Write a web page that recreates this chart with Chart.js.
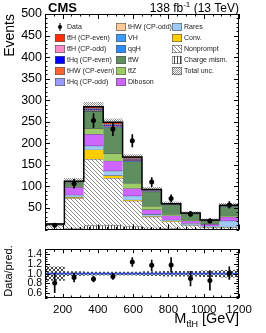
<!DOCTYPE html>
<html>
<head>
<meta charset="utf-8">
<script src="https://cdn.jsdelivr.net/npm/chart.js@4.4.0/dist/chart.umd.min.js"></script>
<style>
  body { margin: 0; background: #fff; }
  #wrap { position: relative; width: 266px; height: 333px; }
  #mainChart { position: absolute; left: 0; top: 0; }
  #ratioChart { position: absolute; left: 0; top: 240px; }
</style>
</head>
<body>
<div id="wrap">
  <canvas id="mainChart" width="266" height="240"></canvas>
  <canvas id="ratioChart" width="266" height="93"></canvas>
</div>
<script>
// bins of M_ttH [GeV]
const edges = [100, 210, 320, 430, 540, 650, 760, 870, 980, 1090, 1200];
const xTicks = [200, 400, 600, 800, 1000, 1200];
const ratioTicks = [0.6, 0.8, 1.0, 1.2, 1.4];

// observed
const dataObs = [10, 106, 253, 233, 206, 110, 72, 36, 20, 57];
const dataErr = [3.2, 10.3, 15.9, 15.3, 14.4, 10.5, 8.5, 6, 4.5, 7.5];

// predicted yields per process (bottom of the stack first)
const chargeMism = [1, 2, 9, 10, 7, 4, 2, 1, 1, 1];
const nonprompt  = [9, 70, 154, 109, 59, 25, 16, 9, 4, 4];
const conv       = [0.5, 3, 22, 6, 2, 1, 0.5, 0.3, 0.2, 0.5];
const rares      = [0.5, 5, 9, 11, 10, 5, 3.5, 3.7, 2.8, 14.5];
const diboson    = [0.5, 18, 27, 23, 17, 11, 10, 6, 4, 9];
const ttZ        = [0.3, 2, 13, 17, 11, 8, 2, 1, 1, 2];
const ttW        = [0.7, 10, 40, 60, 51, 33, 23, 15, 7, 22];
const qqH        = [0.05, 0.1, 0.5, 0.6, 0.5, 0.3, 0.1, 0.1, 0.1, 0.1];
const VH         = [0.05, 0.1, 0.5, 0.6, 0.5, 0.3, 0.1, 0.1, 0.1, 0.1];
const tHWodd     = [0, 0.1, 0.3, 0.4, 0.4, 0.2, 0.1, 0.1, 0.1, 0.2];
const tHqodd     = [0.05, 0.2, 0.7, 0.9, 0.8, 0.4, 0.2, 0.2, 0.2, 0.3];
const tHWeven    = [0.05, 0.2, 0.8, 1, 0.8, 0.5, 0.3, 0.2, 0.2, 0.3];
const tHqeven    = [0.1, 0.4, 2.2, 2.5, 2, 1.1, 0.6, 0.4, 0.4, 0.6];
const ttHodd     = [0.1, 0.3, 2.5, 3, 2.5, 1.4, 0.7, 0.4, 0.4, 0.6];
const ttHeven    = [0.1, 0.6, 3.5, 4, 3.5, 1.8, 0.9, 0.5, 0.5, 0.8];
const totalUnc   = [1.5, 7, 10, 8, 6, 5, 4, 3, 3, 5];

// ratio panel
const ratio    = [0.81, 0.92, 0.89, 0.94, 1.24, 1.17, 1.18, 0.90, 0.86, 1.01];
const ratioErr = [0.2, 0.09, 0.06, 0.06, 0.09, 0.11, 0.15, 0.15, 0.2, 0.13];
const ratioUnc = [0.14, 0.04, 0.03, 0.03, 0.03, 0.04, 0.05, 0.05, 0.06, 0.07];

Chart.defaults.font.family = '"Liberation Sans", Arial, sans-serif';
Chart.defaults.color = '#000';

// hatch patterns
function makePattern(size, paint) {
  const c = document.createElement('canvas');
  c.width = c.height = size;
  const g = c.getContext('2d');
  paint(g, size);
  return g.createPattern(c, 'repeat');
}
const nonpromptFill = makePattern(4, (g, s) => {
  g.fillStyle = '#fff'; g.fillRect(0, 0, s, s);
  g.fillStyle = '#8a8a8a';
  for (let i = 0; i < s; i++) g.fillRect(i, i, 1, 1);
});
const chargeFill = makePattern(3, (g, s) => {
  g.fillStyle = '#fff'; g.fillRect(0, 0, s, s);
  g.fillStyle = '#444'; g.fillRect(0, 0, 1, s);
});
const uncFill = makePattern(2, (g) => {
  g.fillStyle = 'rgba(110,110,110,0.75)';
  g.fillRect(0, 0, 1, 1); g.fillRect(1, 1, 1, 1);
});
const ratioUncFill = makePattern(4, (g, s) => {
  g.fillStyle = 'rgba(40,40,40,0.85)';
  for (let i = 0; i < s; i++) { g.fillRect(i, i, 1, 1); g.fillRect(s - 1 - i, i, 1, 1); }
});

const components = [
  { label: 'Charge mism.', values: chargeMism, fill: chargeFill },
  { label: 'Nonprompt', values: nonprompt, fill: nonpromptFill },
  { label: 'Conv.', values: conv, fill: '#ffcc00' },
  { label: 'Rares', values: rares, fill: '#9ccbf7' },
  { label: 'Diboson', values: diboson, fill: '#cc66ff' },
  { label: 'tt\u0304Z', values: ttZ, fill: '#9ccc65' },
  { label: 'tt\u0304W', values: ttW, fill: '#5f8f5f' },
  { label: 'qqH', values: qqH, fill: '#2b8cff' },
  { label: 'VH', values: VH, fill: '#3d9bff' },
  { label: 'tHW (CP-odd)', values: tHWodd, fill: '#ffc994' },
  { label: 'tHq (CP-odd)', values: tHqodd, fill: '#9b9bff' },
  { label: 'tHW (CP-even)', values: tHWeven, fill: '#ff6530' },
  { label: 'tHq (CP-even)', values: tHqeven, fill: '#0000ff' },
  { label: 'tt\u0304H (CP-odd)', values: ttHodd, fill: '#ff8cc6' },
  { label: 'tt\u0304H (CP-even)', values: ttHeven, fill: '#ff2d0a' }
];
const fillByLabel = {};
components.forEach(c => { fillByLabel[c.label] = c.fill; });
fillByLabel['Total unc.'] = uncFill;

const legendCols = [
  { x: 55, items: ['Data', 'tt\u0304H (CP-even)', 'tt\u0304H (CP-odd)', 'tHq (CP-even)', 'tHW (CP-even)', 'tHq (CP-odd)'] },
  { x: 116, items: ['tHW (CP-odd)', 'VH', 'qqH', 'tt\u0304W', 'tt\u0304Z', 'Diboson'] },
  { x: 172, items: ['Rares', 'Conv.', 'Nonprompt', 'Charge mism.', 'Total unc.'] }
];

const centers = edges.slice(0, -1).map((e, i) => (e + edges[i + 1]) / 2);

// cumulative floating bars for the stack
const cum = new Array(centers.length).fill(0);
const stackSets = components.map((c, k) => {
  const data = c.values.map((v, i) => {
    const lo = cum[i];
    cum[i] += v;
    return { x: centers[i], y: [lo, cum[i]] };
  });
  return {
    type: 'bar', label: c.label, data,
    backgroundColor: c.fill,
    borderColor: 'rgba(30,30,30,0.7)',
    borderWidth: { top: 0.6, right: 0, bottom: 0, left: 0 },
    borderSkipped: false,
    grouped: false, barPercentage: 1, categoryPercentage: 1,
    order: 20 + k
  };
});
const totals = cum.slice();

const outline = [{ x: edges[0], y: 0 }]
  .concat(totals.map((t, i) => ({ x: edges[i], y: t })))
  .concat([{ x: edges[edges.length - 1], y: totals[totals.length - 1] }]);

// inside ticks on all four sides plus frame, ROOT style
const rootAxes = {
  id: 'rootAxes',
  afterDraw(chart, args, o) {
    const { ctx, chartArea: a } = chart;
    const x = chart.scales.x, y = chart.scales.y;
    ctx.save();
    ctx.strokeStyle = '#000';
    ctx.lineWidth = 1;
    ctx.beginPath();
    const hx = (v, len) => {
      const p = Math.round(x.getPixelForValue(v)) + 0.5;
      ctx.moveTo(p, a.bottom); ctx.lineTo(p, a.bottom - len);
      ctx.moveTo(p, a.top); ctx.lineTo(p, a.top + len);
    };
    const hy = (v, len) => {
      const p = Math.round(y.getPixelForValue(v)) + 0.5;
      ctx.moveTo(a.left, p); ctx.lineTo(a.left + len, p);
      ctx.moveTo(a.right, p); ctx.lineTo(a.right - len, p);
    };
    for (let v = o.xMinorStart; v <= x.max + 1e-6; v += o.xMinor) hx(v, 2.5);
    xTicks.forEach(v => hx(v, o.xMajorLen));
    for (let v = y.min; v <= y.max + 1e-6; v += o.yMinor) hy(v, 2.5);
    o.yMajor.forEach(v => hy(v, 5));
    ctx.stroke();
    ctx.strokeRect(Math.round(a.left) + 0.5, Math.round(a.top) + 0.5,
      Math.round(a.right - a.left) - 1, Math.round(a.bottom - a.top) - 1);
    ctx.restore();
  }
};

const mainDecor = {
  id: 'mainDecor',
  afterDraw(chart) {
    const ctx = chart.ctx;
    ctx.save();
    ctx.fillStyle = '#000';
    ctx.textBaseline = 'alphabetic';
    ctx.font = 'bold 13px "Liberation Sans", Arial, sans-serif';
    ctx.fillText('CMS', 48, 12);

    // lumi label with superscript
    const big = '12px "Liberation Sans", Arial, sans-serif';
    const small = '8px "Liberation Sans", Arial, sans-serif';
    ctx.font = big;
    const w1 = ctx.measureText('138 fb').width;
    const w3 = ctx.measureText(' (13 TeV)').width;
    ctx.font = small;
    const w2 = ctx.measureText('-1').width;
    let x0 = 239 - (w1 + w2 + w3);
    ctx.font = big; ctx.fillText('138 fb', x0, 12);
    ctx.font = small; ctx.fillText('-1', x0 + w1, 7);
    ctx.font = big; ctx.fillText(' (13 TeV)', x0 + w1 + w2, 12);

    // y title
    ctx.save();
    ctx.translate(14, 14);
    ctx.rotate(-Math.PI / 2);
    ctx.textAlign = 'right';
    ctx.font = '14px "Liberation Sans", Arial, sans-serif';
    ctx.fillText('Events', 0, 0);
    ctx.restore();

    // legend
    ctx.font = '7px "Liberation Sans", Arial, sans-serif';
    ctx.textBaseline = 'middle';
    legendCols.forEach(col => {
      col.items.forEach((lab, r) => {
        const yy = 27 + r * 11;
        if (lab === 'Data') {
          ctx.fillStyle = '#000';
          ctx.beginPath(); ctx.arc(col.x + 5, yy, 2, 0, Math.PI * 2); ctx.fill();
          ctx.fillRect(col.x + 4.5, yy - 4, 1, 8);
        } else {
          ctx.fillStyle = fillByLabel[lab];
          ctx.fillRect(col.x, yy - 4, 10, 8);
          ctx.strokeStyle = '#555'; ctx.lineWidth = 0.6;
          ctx.strokeRect(col.x + 0.3, yy - 3.7, 9.4, 7.4);
        }
        ctx.fillStyle = '#222';
        ctx.fillText(lab, col.x + 12, yy + 0.5);
      });
    });
    ctx.restore();
  }
};

const ratioDecor = {
  id: 'ratioDecor',
  afterDraw(chart) {
    const ctx = chart.ctx;
    ctx.save();
    ctx.fillStyle = '#000';
    ctx.save();
    ctx.translate(12, 31);
    ctx.rotate(-Math.PI / 2);
    ctx.textAlign = 'center';
    ctx.font = '11px "Liberation Sans", Arial, sans-serif';
    ctx.fillText('Data/pred.', 0, 0);
    ctx.restore();

    const big = '14.5px "Liberation Sans", Arial, sans-serif';
    const sub = '9px "Liberation Sans", Arial, sans-serif';
    ctx.font = big;
    const wM = ctx.measureText('M').width;
    const wG = ctx.measureText(' [GeV]').width;
    ctx.font = sub;
    const wS = ctx.measureText('tt\u0304H').width;
    const x0 = 239 - (wM + wS + wG);
    ctx.font = big; ctx.fillText('M', x0, 83);
    ctx.font = sub; ctx.fillText('tt\u0304H', x0 + wM, 87);
    ctx.font = big; ctx.fillText(' [GeV]', x0 + wM + wS, 83);
    ctx.restore();
  }
};

new Chart(document.getElementById('mainChart'), {
  type: 'bar',
  data: {
    datasets: [
      {
        type: 'line', label: 'Data', order: 0,
        data: dataObs.map((v, i) => ({ x: centers[i], y: v })),
        showLine: false, pointRadius: 2.5, pointBorderWidth: 0,
        pointBackgroundColor: '#000'
      },
      {
        type: 'bar', order: 1, grouped: false, barThickness: 1,
        data: dataObs.map((v, i) => ({ x: centers[i], y: [v - dataErr[i], v + dataErr[i]] })),
        backgroundColor: '#000'
      },
      {
        type: 'line', order: 2, stepped: 'before', fill: false,
        data: outline, borderColor: '#000', borderWidth: 1.5, pointRadius: 0
      },
      {
        type: 'bar', label: 'Total unc.', order: 3, grouped: false,
        barPercentage: 1, categoryPercentage: 1,
        data: totals.map((t, i) => ({ x: centers[i], y: [t - totalUnc[i], t + totalUnc[i]] })),
        backgroundColor: uncFill
      }
    ].concat(stackSets)
  },
  options: {
    responsive: false,
    animation: false,
    events: [],
    layout: { padding: { left: 0, top: 14, right: 27, bottom: 5 } },
    plugins: {
      legend: { display: false },
      tooltip: { enabled: false },
      rootAxes: { xMinor: 50, xMinorStart: 100, xMajorLen: 5, yMinor: 10, yMajor: [50, 100, 150, 200, 250, 300, 350, 400, 450] }
    },
    scales: {
      x: {
        type: 'linear', min: 100, max: 1200, offset: false,
        grid: { display: false, drawTicks: false }, border: { display: false },
        ticks: { display: false },
        afterBuildTicks: s => { s.ticks = xTicks.map(v => ({ value: v })); },
        afterFit: s => { s.height = 0; }
      },
      y: {
        min: 0, max: 500,
        grid: { display: false, drawTicks: false }, border: { display: false },
        ticks: {
          stepSize: 50, padding: 3, font: { size: 12.5 }, autoSkip: false,
          callback: v => (v === 0 ? '' : String(v))
        },
        afterFit: s => { s.width = 45; }
      }
    }
  },
  plugins: [rootAxes, mainDecor]
});

new Chart(document.getElementById('ratioChart'), {
  type: 'bar',
  data: {
    datasets: [
      {
        type: 'line', order: 0,
        data: ratio.map((v, i) => ({ x: centers[i], y: v })),
        showLine: false, pointRadius: 2.5, pointBorderWidth: 0,
        pointBackgroundColor: '#000'
      },
      {
        type: 'bar', order: 1, grouped: false, barThickness: 1,
        data: ratio.map((v, i) => ({ x: centers[i], y: [v - ratioErr[i], v + ratioErr[i]] })),
        backgroundColor: '#000'
      },
      {
        type: 'line', order: 2,
        data: [{ x: edges[0], y: 1 }, { x: edges[edges.length - 1], y: 1 }],
        borderColor: '#2f4fd0', borderWidth: 1.6, pointRadius: 0
      },
      {
        type: 'bar', order: 3, grouped: false, barPercentage: 1, categoryPercentage: 1,
        data: ratioUnc.map((u, i) => ({ x: centers[i], y: [1 - u, 1 + u] })),
        backgroundColor: ratioUncFill
      }
    ]
  },
  options: {
    responsive: false,
    animation: false,
    events: [],
    layout: { padding: { left: 0, top: 5, right: 27, bottom: 0 } },
    plugins: {
      legend: { display: false },
      tooltip: { enabled: false },
      rootAxes: { xMinor: 50, xMinorStart: 100, xMajorLen: 4, yMinor: 0.05, yMajor: ratioTicks }
    },
    scales: {
      x: {
        type: 'linear', min: 100, max: 1200, offset: false,
        grid: { display: false, drawTicks: false }, border: { display: false },
        ticks: { padding: 5, font: { size: 11.5 }, maxRotation: 0, autoSkip: false, callback: v => String(v) },
        afterBuildTicks: s => { s.ticks = xTicks.map(v => ({ value: v })); },
        afterFit: s => { s.height = 35; }
      },
      y: {
        min: 0.5, max: 1.5,
        grid: { display: false, drawTicks: false }, border: { display: false },
        ticks: { padding: 3, font: { size: 10.5 }, autoSkip: false, callback: v => v.toFixed(1) },
        afterBuildTicks: s => { s.ticks = ratioTicks.map(v => ({ value: v })); },
        afterFit: s => { s.width = 45; }
      }
    }
  },
  plugins: [rootAxes, ratioDecor]
});
</script>
</body>
</html>
